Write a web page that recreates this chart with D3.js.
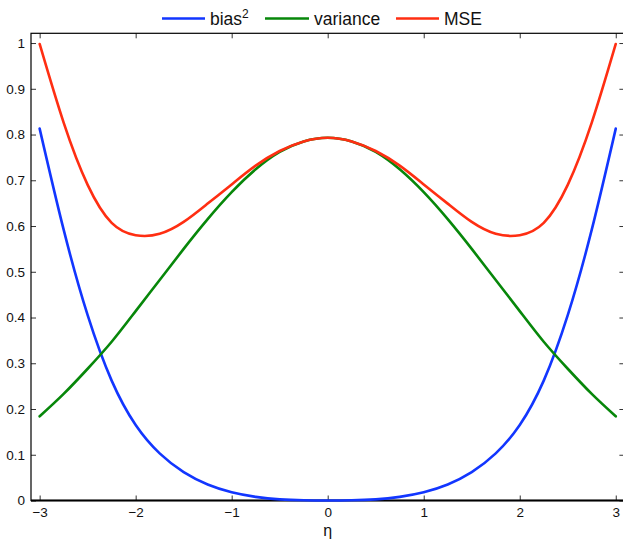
<!DOCTYPE html>
<html>
<head>
<meta charset="utf-8">
<script src="https://cdn.jsdelivr.net/npm/d3@7/dist/d3.min.js"></script>
<style>
  html, body { margin: 0; padding: 0; background: #fff; }
  svg { display: block; font-family: "Liberation Sans", Arial, Helvetica, sans-serif; }
</style>
</head>
<body>
<svg id="chart" width="623" height="540"></svg>
<script>
// ---- data ----
const eta = [-3, -2.75, -2.5, -2.25, -2, -1.75, -1.5, -1.25, -1, -0.75, -0.5, -0.25, 0,
             0.25, 0.5, 0.75, 1, 1.25, 1.5, 1.75, 2, 2.25, 2.5, 2.75, 3];
const bias2 = [0.813, 0.592, 0.405, 0.262, 0.165, 0.103, 0.062, 0.035, 0.018, 0.008, 0.0025, 0.0004, 0,
               0.0004, 0.0025, 0.008, 0.018, 0.035, 0.062, 0.103, 0.165, 0.262, 0.405, 0.592, 0.813];
const variance = [0.184, 0.233, 0.288, 0.347, 0.414, 0.482, 0.550, 0.615, 0.674, 0.724, 0.762, 0.785, 0.793,
                  0.785, 0.762, 0.724, 0.674, 0.615, 0.550, 0.482, 0.414, 0.347, 0.288, 0.233, 0.184];
const mse = [0.998, 0.826, 0.690, 0.607, 0.580, 0.583, 0.609, 0.649, 0.691, 0.732, 0.764, 0.785, 0.793,
             0.785, 0.764, 0.732, 0.691, 0.649, 0.609, 0.583, 0.580, 0.607, 0.690, 0.826, 0.998];
const seriesNames = ["bias", "variance", "MSE"];
const seriesColors = ["#1236ff", "#07870a", "#ff2e12"];
const xTicks = [-3, -2, -1, 0, 1, 2, 3];
const yTicks = [0, 0.1, 0.2, 0.3, 0.4, 0.5, 0.6, 0.7, 0.8, 0.9, 1];
const xLabel = "η";

// ---- layout ----
const svg = d3.select("#chart");
const pL = 31, pR = 624.4, pT = 33.3, pB = 500.5;
const x = d3.scaleLinear().domain([-3.09, 3.09]).range([pL, pR]);
const y = d3.scaleLinear().domain([0, 1.0213]).range([pB, pT]);

const fmtX = d => (d < 0 ? "\u2212" + Math.abs(d) : String(d));
const fmtY = d => (d === 0 ? "0" : d === 1 ? "1" : d3.format(".1f")(d));

// axes with inward ticks
const tickLen = 5;
const axB = svg.append("g").attr("transform", `translate(0,${pB})`)
  .call(d3.axisBottom(x).tickValues(xTicks).tickSize(-tickLen).tickPadding(7).tickFormat(fmtX));
const axT = svg.append("g").attr("transform", `translate(0,${pT})`)
  .call(d3.axisTop(x).tickValues(xTicks).tickSize(-tickLen).tickFormat(""));
const axL = svg.append("g").attr("transform", `translate(${pL},0)`)
  .call(d3.axisLeft(y).tickValues(yTicks).tickSize(-tickLen).tickPadding(6).tickFormat(fmtY));
const axR = svg.append("g").attr("transform", `translate(${pR},0)`)
  .call(d3.axisRight(y).tickValues(yTicks).tickSize(-tickLen).tickFormat(""));

[axB, axT, axL, axR].forEach(g => {
  g.select(".domain").remove();
  g.selectAll(".tick line").attr("stroke", "#333").attr("stroke-width", 1);
  g.selectAll("text").attr("fill", "#111").style("font-size", "13.5px")
   .style("font-family", '"Liberation Sans", Arial, sans-serif');
});

// frame
svg.append("rect").attr("x", pL).attr("y", pT)
  .attr("width", pR - pL).attr("height", pB - pT)
  .attr("fill", "none").attr("stroke", "#000").attr("stroke-width", 1.2);
svg.append("line").attr("x1", pL).attr("x2", pR).attr("y1", pB).attr("y2", pB)
  .attr("stroke", "#000").attr("stroke-width", 2);

// curves
const rows = eta.map((e, i) => ({ e, b: bias2[i], v: variance[i], m: mse[i] }));
const mk = key => d3.line().x(d => x(d.e)).y(d => y(d[key])).curve(d3.curveNatural);
const keys = ["b", "v", "m"];
keys.forEach((k, i) => {
  svg.append("path").datum(rows).attr("d", mk(k))
    .attr("fill", "none").attr("stroke", seriesColors[i])
    .attr("stroke-width", 2.6).attr("stroke-linejoin", "round").attr("stroke-linecap", "round");
});

// x label
svg.append("text").attr("x", x(0)).attr("y", 536).attr("text-anchor", "middle")
  .style("font-size", "16px").attr("fill", "#111").text(xLabel);

// legend
const legend = [
  { x1: 162, x2: 205, tx: 210 },
  { x1: 265, x2: 309, tx: 314 },
  { x1: 396, x2: 439, tx: 444 }
];
const ly = 18.5;
legend.forEach((l, i) => {
  svg.append("line").attr("x1", l.x1).attr("x2", l.x2).attr("y1", ly).attr("y2", ly)
    .attr("stroke", seriesColors[i]).attr("stroke-width", 2.6);
  const t = svg.append("text").attr("x", l.tx).attr("y", ly + 6).style("font-size", "17.5px").attr("fill", "#111");
  t.append("tspan").text(seriesNames[i]);
  if (i === 0) t.append("tspan").attr("dy", -7).style("font-size", "12px").text("2");
});
</script>
</body>
</html>
